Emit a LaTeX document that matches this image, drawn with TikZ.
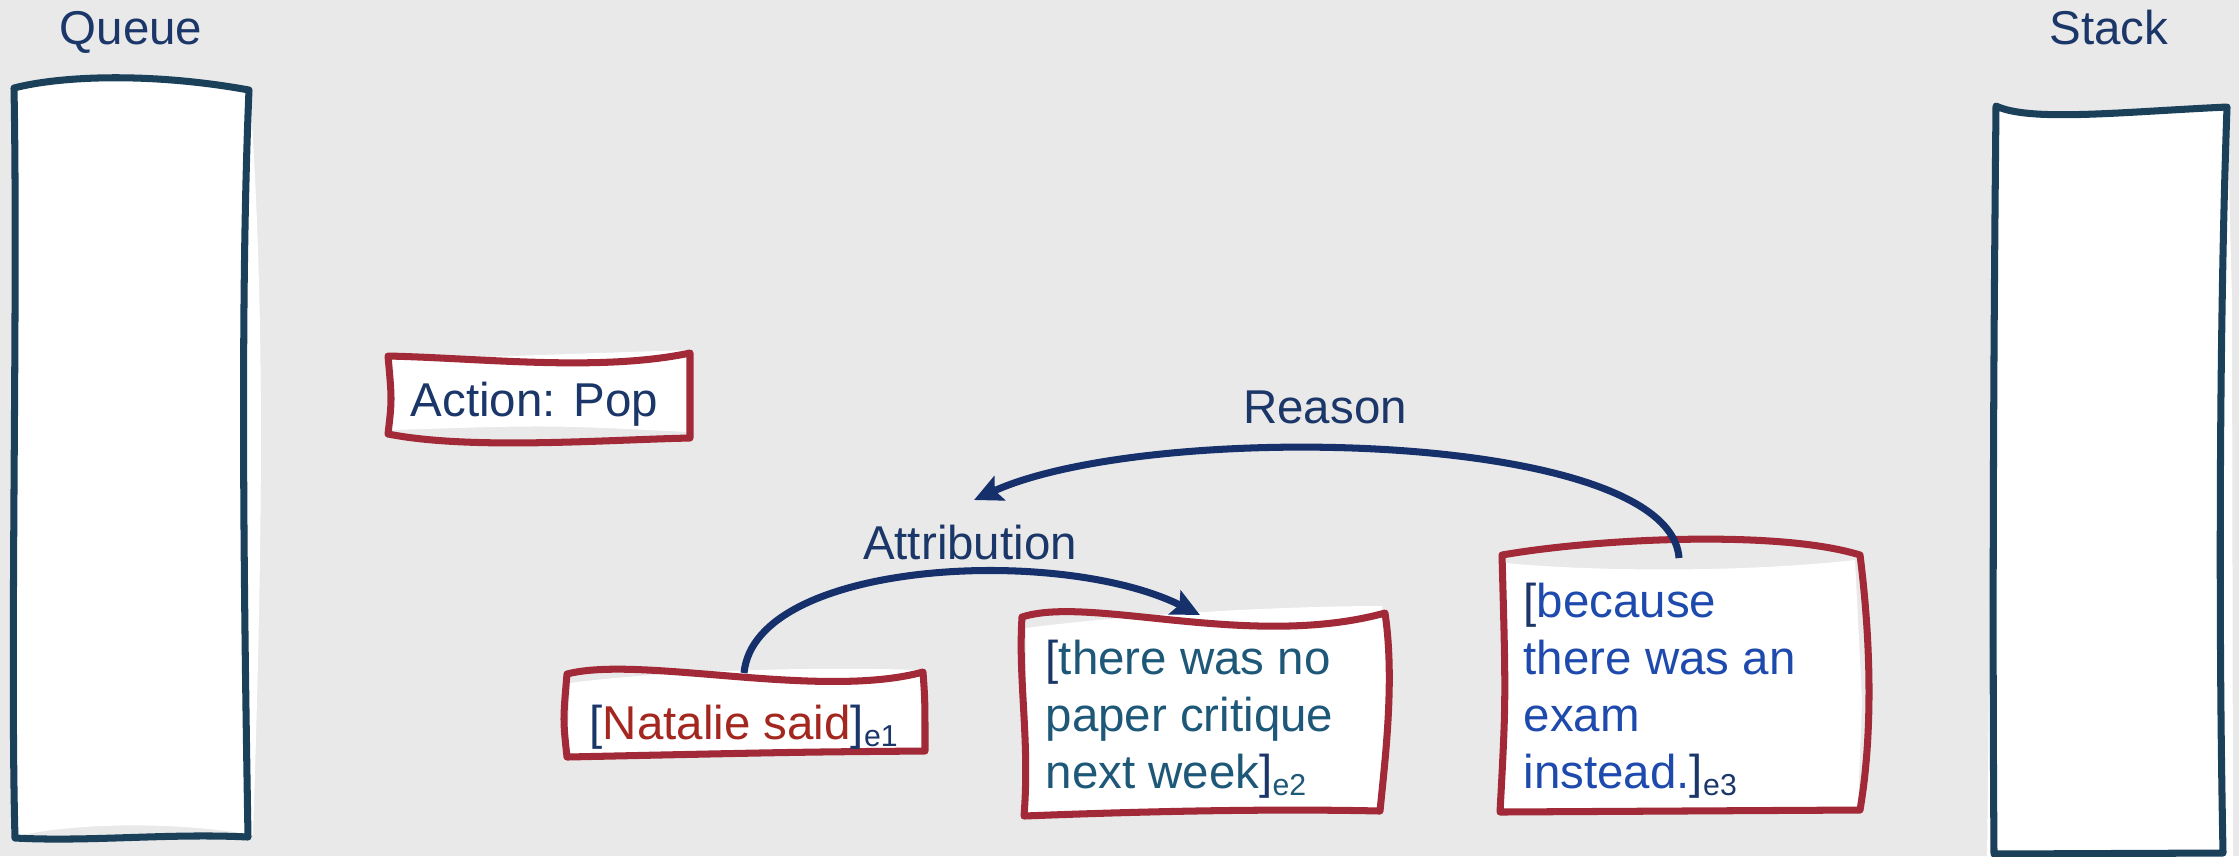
\documentclass[tikz,border=0pt]{standalone}
\usepackage{fontspec}
\setmainfont{Liberation Sans}
\usetikzlibrary{arrows.meta}

\definecolor{bgc}{HTML}{E9E9E9}
\definecolor{colframe}{HTML}{1A405A}
\definecolor{colred}{HTML}{A22A38}
\definecolor{colnavy}{HTML}{1B3668}
\definecolor{colarrow}{HTML}{15306A}
\definecolor{cole1}{HTML}{A3261F}
\definecolor{cole2}{HTML}{1E5878}
\definecolor{cole3}{HTML}{1E4AAE}
\newcommand{\esub}[1]{\raisebox{-2.2pt}{\fontsize{8.6}{9}\selectfont #1}}

\begin{document}
\begin{tikzpicture}[x=0.01cm,y=-0.01cm,
	tallframe/.style={draw=colframe,line width=2pt,line join=round},
	redframe/.style={draw=colred,line width=2pt,line join=round},
	rel/.style={draw=colarrow,line width=2pt,-{Stealth[length=8pt,width=7.5pt,inset=1.5pt]}},
	lbl/.style={text=colnavy,font=\fontsize{13.5}{16.2}\selectfont,inner sep=0}]
	\fill[bgc] (0,0) rectangle (2239,856);
	\useasboundingbox (0,0) rectangle (2239,856);
	
	% queue (left) and stack (right)
	\fill[white] (16,90) .. controls (60,78) and (150,74) .. (250,92) .. controls (264,300) and (264,500) .. (253,835) .. controls (180,822) and (80,822) .. (17,836) -- cycle;
	\draw[tallframe] (14,88) .. controls (60,76) and (150,72) .. (249,90) .. controls (240,300) and (244,600) .. (248,837) .. controls (170,833) and (90,842) .. (15,838) .. controls (10,650) and (18,300) .. (14,88) -- cycle;
	\node[lbl,anchor=base] (queuelbl) at (131,44) {Queue};
	
	\fill[white] (1996,106) .. controls (2030,122) and (2120,112) .. (2227,107) -- (2232,300) -- (2233,860) -- (1987,860) -- (1990,600) -- cycle;
	\draw[tallframe] (1996,106) .. controls (2030,122) and (2120,112) .. (2227,107) .. controls (2220,300) and (2218,600) .. (2223,853) -- (1994,854) .. controls (1992,600) and (1994,300) .. (1996,106) -- cycle;
	\node[lbl,anchor=base] (stacklbl) at (2109,44) {Stack};
	
	% action
	\fill[white] (392,360) -- (688,350) -- (688,432) .. controls (550,425) .. (392,430) -- cycle;
	\draw[redframe] (388,356) .. controls (480,358) and (600,372) .. (690,353) -- (690,438) .. controls (600,440) and (470,450) .. (388,434) .. controls (392,400) .. (388,356) -- cycle;
	\node[lbl,anchor=base west] (action) at (410,416) {Action: Pop};
	
	% the three segments
	\fill[white] (570,683) .. controls (650,672) and (800,666) .. (921,670) -- (922,752) -- (567,754) -- cycle;
	\draw[redframe] (567,674) .. controls (640,655) and (820,700) .. (923,672) .. controls (925,700) .. (925,751) .. controls (800,752) .. (567,757) .. controls (563,720) .. (567,674) -- cycle;
	\node[lbl,anchor=base west] (e1) at (589,739) {[\textcolor{cole1}{Natalie said}]\esub{e1}};
	
	\fill[white] (1026,628) .. controls (1150,612) and (1300,606) .. (1382,606) -- (1390,700) -- (1378,808) -- (1026,812) -- cycle;
	\draw[redframe] (1022,617) .. controls (1090,595) and (1250,650) .. (1385,613) .. controls (1395,680) and (1385,760) .. (1380,811) .. controls (1250,808) and (1100,813) .. (1024,816) .. controls (1030,740) and (1018,680) .. (1022,617) -- cycle;
	\node[lbl,anchor=north west,align=left,text=cole2] (e2) at (1045,639) {\textcolor{colnavy}{[}there was no\\paper critique\\next week\textcolor{colnavy}{]}\esub{e2}};
	
	\fill[white] (1505,563) .. controls (1600,572) and (1750,572) .. (1855,560) -- (1862,700) -- (1858,808) -- (1502,810) -- cycle;
	\draw[redframe] (1502,555) .. controls (1600,538) and (1780,530) .. (1860,555) .. controls (1872,650) and (1872,740) .. (1860,810) -- (1500,812) .. controls (1506,700) .. (1502,555) -- cycle;
	\node[lbl,anchor=north west,align=left,text=cole3] (e3) at (1523,582) {\textcolor{colnavy}{[}because\\there was an\\exam\\instead.\textcolor{colnavy}{]\esub{e3}}};
	
	% relations
	\coordinate (e1top) at (744,673);
	\coordinate (e2top) at (1200,615);
	\coordinate (e3top) at (1679,558);
	\coordinate (reasontip) at (974,500);
	\draw[rel] (e1top) .. controls (755,560) and (1060,545) .. (e2top);
	\node[lbl,anchor=base] (attr) at (970,559) {Attribution};
	\draw[rel] (e3top) .. controls (1670,430) and (1150,420) .. (reasontip);
	\node[lbl,anchor=base] (reason) at (1325,423) {Reason};
\end{tikzpicture}
\end{document}
